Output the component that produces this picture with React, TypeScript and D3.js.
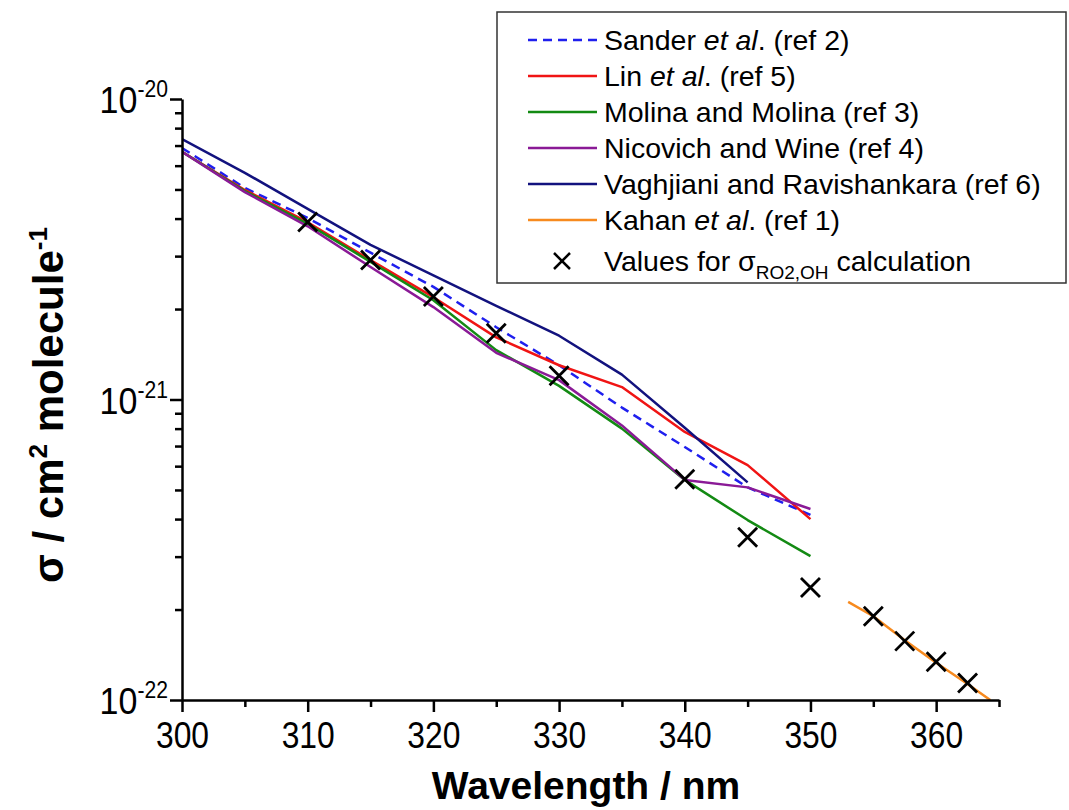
import { useEffect, useRef } from "react";
import * as d3 from "d3";

const W = 1069;
const H = 810;
const FONT = "'Liberation Sans', Arial, sans-serif";

// Sander et al. (ref 2)
const sanderWl = [300, 305, 310, 315, 320, 325, 330, 335, 340, 345, 350];
const sanderSigma = [6.87e-21, 5.06e-21, 4.02e-21, 3.08e-21, 2.37e-21, 1.74e-21, 1.3e-21, 9.4e-22, 6.95e-22, 5.1e-22, 4.13e-22];

// Lin et al. (ref 5)
const linWl = [300, 305, 310, 315, 320, 325, 330, 335, 340, 345, 350];
const linSigma = [6.67e-21, 4.98e-21, 3.89e-21, 2.91e-21, 2.19e-21, 1.61e-21, 1.3e-21, 1.1e-21, 7.8e-22, 6.05e-22, 4.0e-22];

// Molina and Molina (ref 3)
const molinaWl = [300, 305, 310, 315, 320, 325, 330, 335, 340, 345, 350];
const molinaSigma = [6.67e-21, 4.94e-21, 3.84e-21, 2.87e-21, 2.14e-21, 1.46e-21, 1.11e-21, 8.0e-22, 5.4e-22, 3.97e-22, 3.01e-22];

// Nicovich and Wine (ref 4)
const nicovichWl = [300, 305, 310, 315, 320, 325, 330, 335, 340, 345, 350];
const nicovichSigma = [6.67e-21, 4.9e-21, 3.77e-21, 2.76e-21, 2.03e-21, 1.43e-21, 1.16e-21, 8.2e-22, 5.4e-22, 5.1e-22, 4.32e-22];

// Vaghjiani and Ravishankara (ref 6)
const vaghWl = [300, 305, 310, 315, 320, 325, 330, 335, 340, 345];
const vaghSigma = [7.36e-21, 5.68e-21, 4.31e-21, 3.27e-21, 2.59e-21, 2.05e-21, 1.63e-21, 1.21e-21, 8.05e-22, 5.3e-22];

// Kahan et al. (ref 1)
const kahanWl = [353, 355, 357.5, 360, 362.5, 364.3];
const kahanSigma = [2.12e-22, 1.9e-22, 1.58e-22, 1.33e-22, 1.13e-22, 1.0e-22];

// values used for sigma RO2,OH
const crossWl = [310, 315, 320, 325, 330, 340, 345, 350, 355, 357.5, 360, 362.5];
const crossSigma = [3.9e-21, 2.91e-21, 2.2e-21, 1.66e-21, 1.2e-21, 5.43e-22, 3.48e-22, 2.37e-22, 1.9e-22, 1.57e-22, 1.34e-22, 1.14e-22];

const xMajor = [300, 310, 320, 330, 340, 350, 360];
const xMinor = [305, 315, 325, 335, 345, 355, 365];
const yMajor = [1e-22, 1e-21, 1e-20];
const yMajorExp = ["-22", "-21", "-20"];

const series = [
  { key: "sander", wl: sanderWl, sigma: sanderSigma, color: "#1f1fee", dash: "9,6", pre: "Sander ", it: "et al", post: ". (ref 2)" },
  { key: "lin", wl: linWl, sigma: linSigma, color: "#f01414", dash: null, pre: "Lin ", it: "et al", post: ". (ref 5)" },
  { key: "molina", wl: molinaWl, sigma: molinaSigma, color: "#138a13", dash: null, pre: "Molina and Molina (ref 3)", it: "", post: "" },
  { key: "nicovich", wl: nicovichWl, sigma: nicovichSigma, color: "#8a1a96", dash: null, pre: "Nicovich and Wine (ref 4)", it: "", post: "" },
  { key: "vagh", wl: vaghWl, sigma: vaghSigma, color: "#12127e", dash: null, pre: "Vaghjiani and Ravishankara (ref 6)", it: "", post: "" },
  { key: "kahan", wl: kahanWl, sigma: kahanSigma, color: "#f78a1e", dash: null, pre: "Kahan ", it: "et al", post: ". (ref 1)" },
];

const App = () => {
  const svgRef = useRef<SVGSVGElement>(null);

  useEffect(() => {
    const svgElement = svgRef.current;
    if (!svgElement) return;
    const svg = d3.select(svgElement);
    svg.selectAll("*").remove();

    const x = d3.scaleLinear().domain([300, 365]).range([182, 999]);
    const y = d3.scaleLog().domain([1e-22, 1e-20]).range([700, 99]);

    svg.append("rect").attr("width", W).attr("height", H).attr("fill", "#fff");

    svg.append("defs").append("clipPath").attr("id", "plot-clip")
      .append("rect").attr("x", 182).attr("y", 99).attr("width", 817).attr("height", 601);

    // lines
    const line = d3.line<[number, number]>().x((d) => x(d[0])).y((d) => y(d[1]));
    const lines = svg.append("g").attr("clip-path", "url(#plot-clip)");
    series.forEach((s) => {
      lines.append("path")
        .attr("d", line(s.wl.map((w, i) => [w, s.sigma[i]] as [number, number])))
        .attr("fill", "none")
        .attr("stroke", s.color)
        .attr("stroke-width", 2.5)
        .attr("stroke-dasharray", s.dash)
        .attr("stroke-linejoin", "round");
    });

    // crosses
    const cross = "M-9.5,-9.5L9.5,9.5M-9.5,9.5L9.5,-9.5";
    svg.append("g")
      .selectAll("path")
      .data(crossWl.map((w, i) => [w, crossSigma[i]]))
      .join("path")
      .attr("transform", (d) => `translate(${x(d[0])},${y(d[1])})`)
      .attr("d", cross)
      .attr("stroke", "#000")
      .attr("stroke-width", 2.8)
      .attr("fill", "none");

    // x axis
    const gx = svg.append("g").attr("transform", "translate(0,700)");
    gx.call(d3.axisBottom(x).tickValues(xMajor).tickSize(12).tickSizeOuter(0).tickPadding(10).tickFormat(d3.format("d")));
    gx.append("g").call(d3.axisBottom(x).tickValues(xMinor).tickSize(7).tickSizeOuter(0).tickFormat(() => ""))
      .select(".domain").remove();
    gx.selectAll("path, line").attr("stroke", "#000").attr("stroke-width", 2.5);
    gx.selectAll("text")
      .attr("font-family", FONT).attr("font-size", 37).attr("fill", "#000")
      .attr("transform", "scale(0.86,1)");

    // y axis
    const yMinor: number[] = [];
    [1e-22, 1e-21].forEach((b) => { for (let k = 2; k <= 9; k++) yMinor.push(k * b); });
    const gy = svg.append("g").attr("transform", "translate(182,0)");
    gy.call(d3.axisLeft(y).tickValues(yMajor).tickSize(12).tickSizeOuter(0).tickFormat(() => ""));
    gy.append("g").call(d3.axisLeft(y).tickValues(yMinor).tickSize(7).tickSizeOuter(0).tickFormat(() => ""))
      .select(".domain").remove();
    gy.selectAll("path, line").attr("stroke", "#000").attr("stroke-width", 2.5);

    yMajor.forEach((v, i) => {
      const t = svg.append("text")
        .attr("transform", `translate(168,${y(v) + 14}) scale(0.92,1)`)
        .attr("text-anchor", "end")
        .attr("font-family", FONT)
        .attr("font-size", 37)
        .attr("fill", "#000");
      t.append("tspan").text("10");
      t.append("tspan").attr("font-size", 23).attr("dy", -16).text(yMajorExp[i]);
    });

    // axis titles
    svg.append("text")
      .attr("x", 586).attr("y", 799)
      .attr("text-anchor", "middle")
      .attr("font-family", FONT).attr("font-weight", "bold").attr("font-size", 39)
      .text("Wavelength / nm");

    const yt = svg.append("text")
      .attr("transform", "translate(63,405) rotate(-90)")
      .attr("text-anchor", "middle")
      .attr("font-family", FONT).attr("font-weight", "bold").attr("font-size", 42);
    yt.append("tspan").text("σ / cm");
    yt.append("tspan").attr("font-size", 26).attr("dy", -16).text("2");
    yt.append("tspan").attr("dy", 16).text(" molecule");
    yt.append("tspan").attr("font-size", 26).attr("dy", -16).text("-1");

    // legend
    const lg = svg.append("g");
    lg.append("rect")
      .attr("x", 497).attr("y", 12).attr("width", 569).attr("height", 271)
      .attr("fill", "#fff").attr("stroke", "#333").attr("stroke-width", 1.5);
    const rowY = [40, 76, 112, 148, 184, 220];
    series.forEach((s, i) => {
      lg.append("line")
        .attr("x1", 528).attr("x2", 597).attr("y1", rowY[i]).attr("y2", rowY[i])
        .attr("stroke", s.color).attr("stroke-width", 2.5)
        .attr("stroke-dasharray", s.dash);
      const t = lg.append("text")
        .attr("x", 604).attr("y", rowY[i] + 10)
        .attr("font-family", FONT).attr("font-size", 28.5).attr("fill", "#000");
      t.append("tspan").text(s.pre);
      if (s.it) {
        t.append("tspan").attr("font-style", "italic").text(s.it);
        t.append("tspan").text(s.post);
      }
    });
    lg.append("path")
      .attr("transform", "translate(562,261)")
      .attr("d", "M-8,-8L8,8M-8,8L8,-8")
      .attr("stroke", "#000").attr("stroke-width", 2.5);
    const vt = lg.append("text")
      .attr("x", 604).attr("y", 271)
      .attr("font-family", FONT).attr("font-size", 28.5).attr("fill", "#000");
    vt.append("tspan").text("Values for σ");
    vt.append("tspan").attr("font-size", 19).attr("dy", 8).text("RO2,OH");
    vt.append("tspan").attr("dy", -8).text(" calculation");
  }, []);

  return (
    <svg
      ref={svgRef}
      width={W}
      height={H}
      style={{ position: "absolute", left: 0, top: 0, display: "block" }}
    />
  );
};

export default App;
